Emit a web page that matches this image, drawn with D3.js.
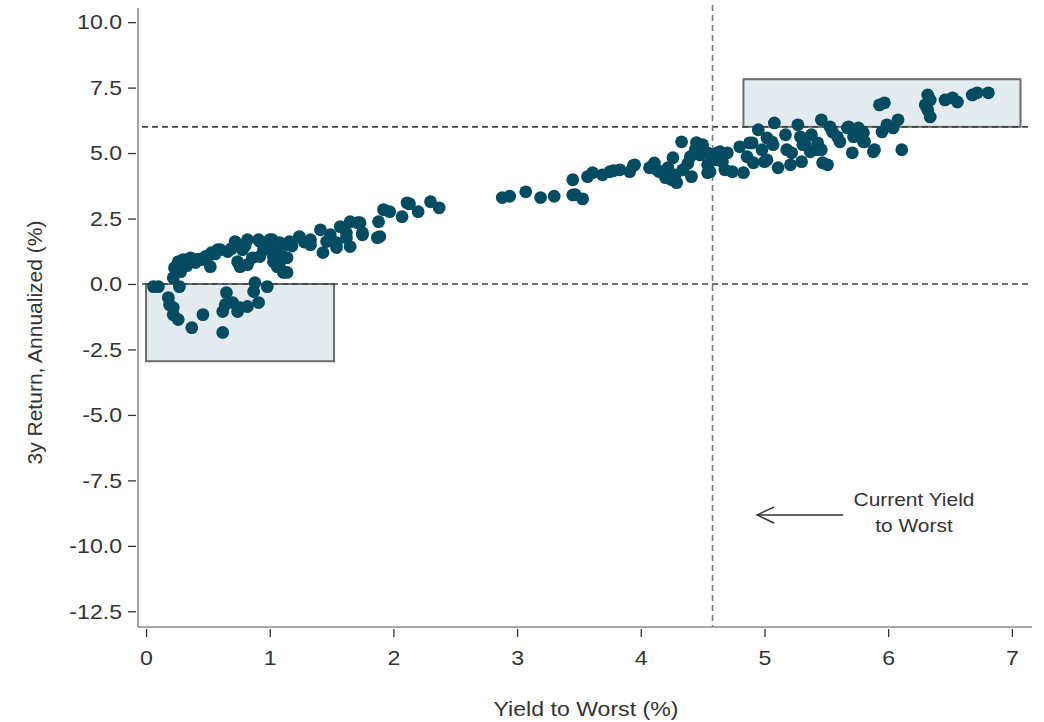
<!DOCTYPE html>
<html>
<head>
<meta charset="utf-8">
<script src="https://cdn.jsdelivr.net/npm/d3@7"></script>
<style>
  html, body { margin: 0; padding: 0; background: #ffffff; }
  svg { display: block; }
  text { font-family: "Liberation Sans", Arial, sans-serif; fill: #333333; }
</style>
</head>
<body>
<svg id="chart" width="1044" height="722"></svg>
<script>
// ---- data ----
const yieldToWorst = [
  0.06,0.10,0.27,0.18,0.19,0.22,0.22,0.26,0.37,0.46,0.62,0.65,0.62,0.64,0.70,0.74,0.76,0.82,0.87,0.88,0.91,0.98,
  0.22,0.23,0.26,0.30,0.36,0.40,0.45,0.52,0.53,0.60,0.66,0.72,0.74,0.78,0.82,0.86,0.91,0.92,0.98,1.02,1.03,1.08,1.11,1.14,1.14,
  0.28,0.52,0.58,0.76,0.82,1.00,1.11,1.14,1.24,1.33,1.41,1.43,1.49,1.54,1.62,1.65,1.73,1.75,1.87,
  0.33,0.42,0.48,0.56,0.69,0.80,0.95,1.06,1.18,1.28,
  1.92,1.97,1.88,1.89,2.07,2.11,1.65,1.71,1.75,1.62,1.57,1.16,1.46,1.54,1.33,1.08,0.92,1.03,1.06,
  2.13,2.20,2.30,2.37,
  2.88,2.94,3.07,3.19,3.30,3.45,3.53,
  3.45,3.47,3.57,3.61,3.69,3.75,3.83,3.91,3.95,4.11,4.13,4.22,4.26,4.28,4.29,4.25,4.33,4.34,4.41,4.45,4.48,4.50,4.54,4.54,4.60,
  4.07,4.15,4.20,4.38,4.40,4.44,3.78,3.94,
  4.54,4.56,4.62,4.66,4.70,4.74,4.80,4.83,4.86,4.90,4.91,4.95,4.98,5.00,5.02,5.06,5.08,5.11,5.17,5.18,5.21,5.22,5.27,5.29,5.30,5.31,
  5.37,5.38,5.43,5.46,5.46,5.47,5.51,5.53,5.59,5.61,5.68,5.71,5.72,5.76,5.80,5.88,
  4.64,4.68,5.02,4.88,5.07,5.33,5.42,5.55,5.67,
  5.80,5.81,5.89,5.93,5.97,5.95,5.99,6.04,6.08,6.11,
  6.30,6.32,6.34,6.32,6.34,6.46,6.52,6.56,6.68,6.72,6.81
];
const threeYearReturn = [
  -0.10,-0.10,-0.10,-0.52,-0.79,-0.90,-1.17,-1.36,-1.67,-1.17,-1.85,-0.33,-1.05,-0.79,-0.71,-1.05,-0.90,-0.86,-0.29,0.05,-0.71,-0.10,
  0.24,0.62,0.85,0.93,1.00,0.82,0.93,0.66,1.20,1.31,1.24,1.62,0.85,1.31,1.69,1.00,1.69,1.05,1.39,1.69,0.85,0.66,0.44,1.50,1.00,
  0.47,1.12,1.31,0.66,0.74,1.69,1.05,0.44,1.81,1.69,2.07,1.20,1.88,1.39,1.77,1.43,2.34,1.88,1.77,
  0.70,0.95,1.05,1.15,1.35,1.45,1.30,1.40,1.45,1.60,
  2.84,2.76,2.38,1.81,2.57,3.10,2.38,2.34,1.96,1.96,2.19,1.62,1.62,1.58,1.50,1.58,1.62,1.05,0.66,
  3.06,2.76,3.14,2.91,
  3.30,3.35,3.52,3.30,3.35,3.40,3.25,
  3.98,3.41,4.10,4.25,4.17,4.29,4.36,4.29,4.55,4.62,4.36,4.44,4.82,4.17,3.87,3.98,5.43,4.36,4.10,5.40,4.93,5.32,4.55,4.25,4.74,
  4.44,4.29,4.06,4.60,4.86,5.13,4.33,4.52,
  5.01,4.29,5.01,4.67,5.01,4.29,5.24,4.25,4.86,5.39,4.63,5.89,5.13,4.67,5.58,5.43,6.15,4.44,5.70,5.13,4.55,5.01,6.08,5.62,4.67,5.32,
  5.05,5.70,5.39,6.27,5.13,4.63,4.55,6.00,5.62,5.43,6.00,5.01,5.62,5.96,5.43,5.05,
  5.05,4.36,4.74,5.39,5.32,5.32,5.13,5.81,5.96,
  5.77,5.43,5.13,6.84,6.92,5.81,6.08,5.96,6.27,5.13,
  6.84,7.22,7.03,6.65,6.38,7.03,7.11,6.95,7.22,7.30,7.30
];
const xTicks = [0, 1, 2, 3, 4, 5, 6, 7];
const yTicks = [-12.5, -10, -7.5, -5, -2.5, 0, 2.5, 5, 7.5, 10];
const currentYield = 4.58;
const refReturns = [0, 6];
const lowBox = { x0: 0, x1: 1.52, y0: -2.95, y1: 0 };
const highBox = { x0: 4.83, x1: 7.07, y0: 6.0, y1: 7.82 };
const xTitle = "Yield to Worst (%)";
const yTitle = "3y Return, Annualized (%)";
const annotationLines = ["Current Yield", "to Worst"];

// ---- layout ----
const svg = d3.select("#chart");
const mLeft = 138, mRight = 1032, mTop = 8, mBottom = 627;
const x = d3.scaleLinear().domain([-0.065, 7.163]).range([mLeft, mRight]);
const y = d3.scaleLinear().domain([-13.1, 10.54]).range([mBottom, mTop]);

const dotColor = "#024b60";
const boxFill = "#e3ebee";
const boxStroke = "#6b6b6b";
const stretch = 1.1;

function widen(sel, k) {
  sel.each(function () {
    const len = this.getComputedTextLength();
    d3.select(this).attr("textLength", len * k).attr("lengthAdjust", "spacingAndGlyphs");
  });
}

// boxes
[lowBox, highBox].forEach(b => {
  svg.append("rect")
    .attr("x", x(b.x0)).attr("y", y(b.y1))
    .attr("width", x(b.x1) - x(b.x0)).attr("height", y(b.y0) - y(b.y1))
    .attr("fill", boxFill).attr("stroke", boxStroke).attr("stroke-width", 2);
});

// reference lines
svg.selectAll("line.href").data(refReturns).enter().append("line")
  .attr("class", "href")
  .attr("x1", mLeft + 4).attr("x2", mRight)
  .attr("y1", d => y(d)).attr("y2", d => y(d))
  .attr("stroke", "#444").attr("stroke-width", 1.6)
  .attr("stroke-dasharray", "6,4");

svg.append("line")
  .attr("x1", x(currentYield)).attr("x2", x(currentYield))
  .attr("y1", mTop - 3).attr("y2", mBottom)
  .attr("stroke", "#7a7a7a").attr("stroke-width", 1.6)
  .attr("stroke-dasharray", "6,4");

// points
const pts = yieldToWorst.map((v, i) => [v, threeYearReturn[i]]);
svg.append("g").selectAll("circle").data(pts).enter().append("circle")
  .attr("cx", d => x(d[0])).attr("cy", d => y(d[1]))
  .attr("r", 6.4).attr("fill", dotColor);

// spines
svg.append("line").attr("x1", mLeft).attr("x2", mLeft).attr("y1", mTop).attr("y2", mBottom)
  .attr("stroke", "#8a8a8a").attr("stroke-width", 1.6);
svg.append("line").attr("x1", mLeft).attr("x2", mRight).attr("y1", mBottom).attr("y2", mBottom)
  .attr("stroke", "#8a8a8a").attr("stroke-width", 1.6);

// axes
const xAxis = d3.axisBottom(x).tickValues(xTicks).tickFormat(d3.format("d")).tickSize(8).tickPadding(13);
const gx = svg.append("g").attr("transform", `translate(0,${mBottom + 2})`).call(xAxis);
gx.select(".domain").remove();
gx.selectAll(".tick line").attr("stroke", "#333").attr("stroke-width", 1.3);
gx.selectAll(".tick text").style("font-size", "21px").attr("fill", "#333");
widen(gx.selectAll(".tick text"), stretch);

const fmtY = d => d3.format(".1f")(d).replace("\u2212", "-");
const yAxis = d3.axisLeft(y).tickValues(yTicks).tickFormat(fmtY).tickSize(8).tickPadding(6);
const gy = svg.append("g").attr("transform", `translate(${mLeft - 2},0)`).call(yAxis);
gy.select(".domain").remove();
gy.selectAll(".tick line").attr("stroke", "#333").attr("stroke-width", 1.3);
gy.selectAll(".tick text").style("font-size", "21px").attr("fill", "#333");
widen(gy.selectAll(".tick text"), stretch);

// titles
const xt = svg.append("text").attr("x", 586).attr("y", 716)
  .attr("text-anchor", "middle").style("font-size", "21px").text(xTitle);
widen(xt, stretch);
svg.append("text").attr("transform", `translate(42,${(mTop + mBottom) / 2 + 25}) rotate(-90)`)
  .attr("text-anchor", "middle").style("font-size", "21px").text(yTitle);

// annotation
const ay = 515, ax0 = 843, ax1 = 757;
svg.append("line").attr("x1", ax0).attr("x2", ax1).attr("y1", ay).attr("y2", ay)
  .attr("stroke", "#333").attr("stroke-width", 1.4);
svg.append("path").attr("d", `M${ax1 + 17},${ay - 8} L${ax1},${ay} L${ax1 + 17},${ay + 8}`)
  .attr("fill", "none").attr("stroke", "#333").attr("stroke-width", 1.4);
const a1 = svg.append("text").attr("x", 914).attr("y", 506).attr("text-anchor", "middle")
  .style("font-size", "19px").text(annotationLines[0]);
const a2 = svg.append("text").attr("x", 914).attr("y", 532).attr("text-anchor", "middle")
  .style("font-size", "19px").text(annotationLines[1]);
widen(a1, stretch);
widen(a2, stretch);
</script>
</body>
</html>
